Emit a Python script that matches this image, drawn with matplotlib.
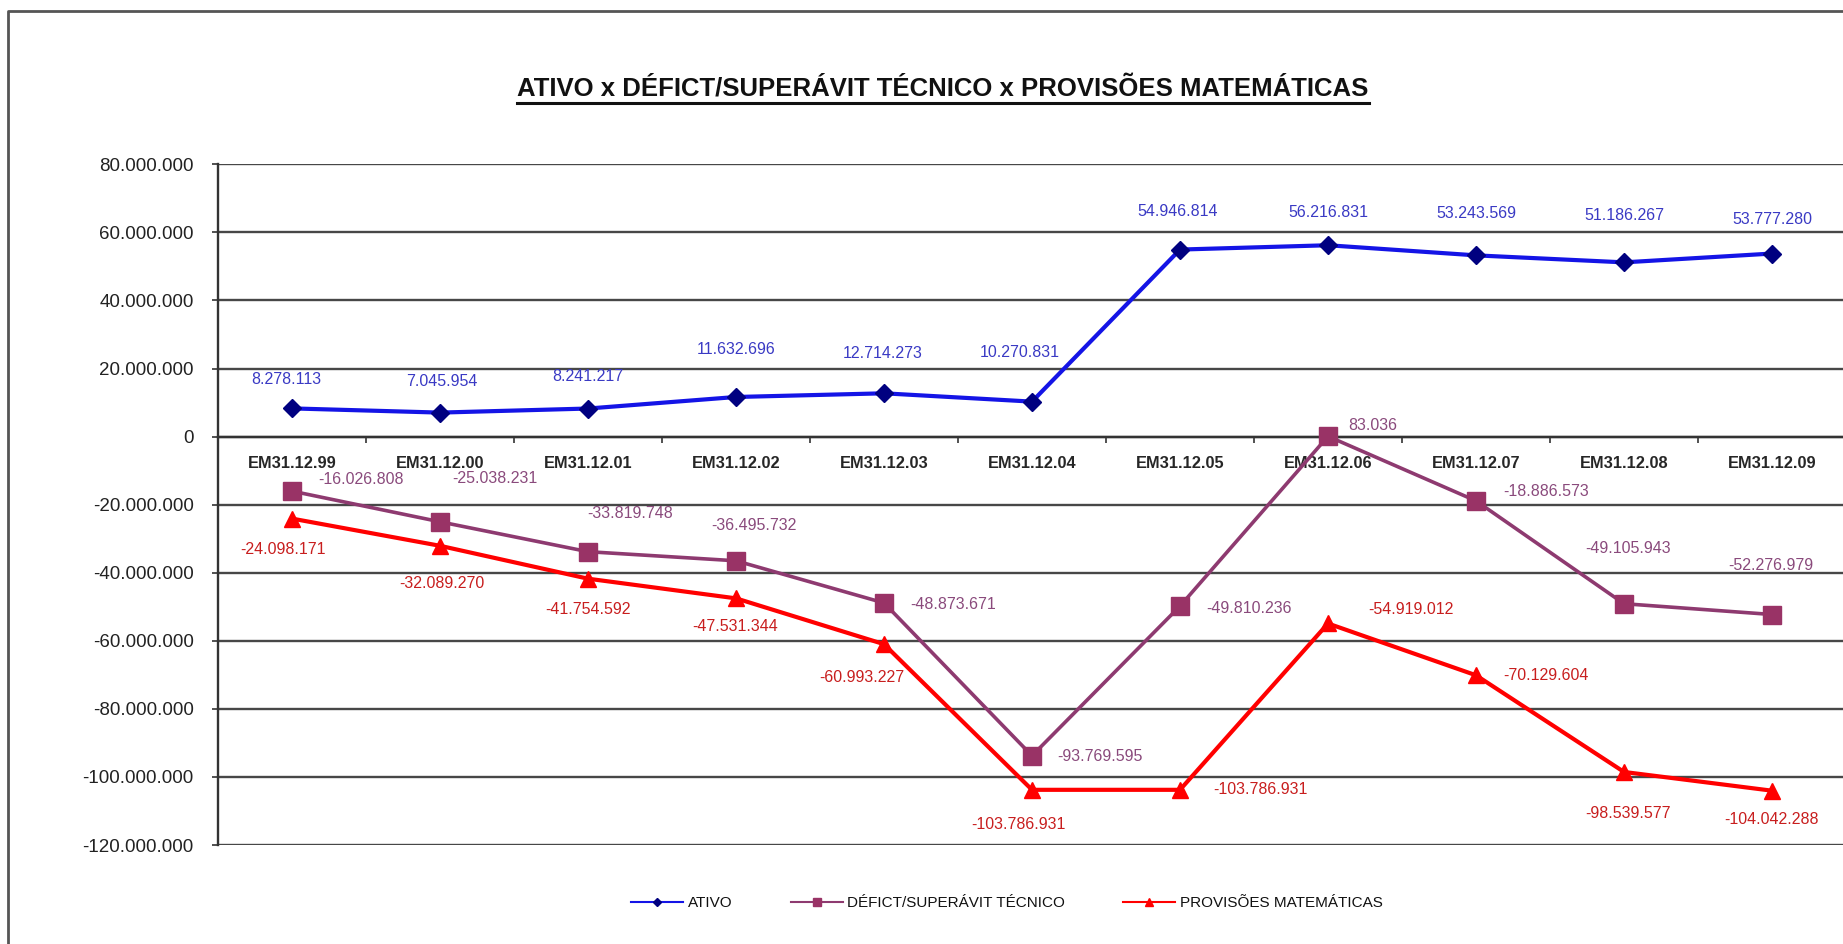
import numpy as np
import matplotlib
matplotlib.use("Agg")
import matplotlib.pyplot as plt
from matplotlib.lines import Line2D

plt.rcParams["font.family"] = ["Liberation Sans", "DejaVu Sans"]

categories = ["EM31.12.99", "EM31.12.00", "EM31.12.01", "EM31.12.02", "EM31.12.03",
              "EM31.12.04", "EM31.12.05", "EM31.12.06", "EM31.12.07", "EM31.12.08",
              "EM31.12.09"]
ativo = [8278113, 7045954, 8241217, 11632696, 12714273, 10270831,
         54946814, 56216831, 53243569, 51186267, 53777280]
deficit = [-16026808, -25038231, -33819748, -36495732, -48873671, -93769595,
           -49810236, 83036, -18886573, -49105943, -52276979]
provisoes = [-24098171, -32089270, -41754592, -47531344, -60993227, -103786931,
             -103786931, -54919012, -70129604, -98539577, -104042288]
yticks = list(range(-120000000, 80000001, 20000000))

# label offsets in pixels (dx, dy up), as placed in the original
ativo_off = [(-6, 29), (2, 31), (0, 32), (0, 47), (-1, 40), (-12, 49),
             (-2, 38), (0, 33), (0, 42), (0, 47), (0, 34)]
deficit_off = [(69, 12), (55, 43), (42, 38), (18, 35), (69, -2), (68, -1),
               (69, -2), (45, 11), (70, 9), (4, 55), (-1, 49)]
prov_off = [(-9, -31), (2, -38), (0, -31), (-1, -28), (-22, -33), (-14, -35),
            (80, 0), (83, 14), (70, 0), (4, -42), (-1, -29)]

def fmt(v):
    return f"{v:,.0f}".replace(",", ".")

W, H = 1843, 944
fig = plt.figure(figsize=(W / 100, H / 100), dpi=100)
ax = fig.add_axes([218 / W, 1 - 845 / H, (1846 - 218) / W, (845 - 164.3) / H])

# spines first: moving the spine resets tick label styling
ax.spines["top"].set_visible(False)
ax.spines["right"].set_visible(False)
ax.spines["bottom"].set_position(("data", 0))
ax.spines["bottom"].set_color("#333333")
ax.spines["bottom"].set_linewidth(1.7)
ax.spines["left"].set_color("#333333")
ax.spines["left"].set_linewidth(1.7)

x = np.arange(len(categories))

ax.plot(x, ativo, color="#1414E6", lw=3, marker="D", ms=9.5,
        mfc="#000080", mec="#000080", zorder=3)
ax.plot(x, deficit, color="#8E3A70", lw=2.6, marker="s", ms=13,
        mfc="#993366", mec="#993366", zorder=3)
ax.plot(x, provisoes, color="#FF0000", lw=3, marker="^", ms=11,
        mfc="#FF0000", mec="#FF0000", zorder=4)

for series, offs, col in [(ativo, ativo_off, "#3A3AC4"),
                          (deficit, deficit_off, "#8A4A7C"),
                          (provisoes, prov_off, "#C81E1E")]:
    for i, v in enumerate(series):
        ax.annotate(fmt(v), (x[i], v), xytext=offs[i], textcoords="offset pixels",
                    ha="center", va="center", fontsize=11.5, color=col, zorder=5)

ax.set_xlim(-0.5, len(categories) - 0.5)
ax.set_ylim(-120000000, 80000000)
ax.set_yticks(yticks)
ax.set_yticklabels([fmt(v) for v in yticks], fontsize=13.5, color="#222222")
ax.tick_params(axis="y", direction="out", length=4.5, width=1.2, color="#333333", pad=13)
ax.grid(axis="y", color="#474747", lw=1.7, zorder=0)

ax.set_xticks(x)
ax.set_xticklabels(categories, fontsize=11.8, fontweight="bold", color="#262626")
ax.set_xticks(np.arange(len(categories) + 1) - 0.5, minor=True)
ax.tick_params(axis="x", which="major", length=0, pad=14)
ax.tick_params(axis="x", which="minor", direction="out", length=4, width=1.2, color="#333333")

# title with underline
title = fig.text(943 / W, 1 - 88 / H, "ATIVO x DÉFICT/SUPERÁVIT TÉCNICO x PROVISÕES MATEMÁTICAS",
                 ha="center", va="center", fontsize=18.5, fontweight="bold", color="#111111")
fig.canvas.draw()
bb = title.get_window_extent(fig.canvas.get_renderer())
uy = bb.y0 - 3
fig.add_artist(Line2D([bb.x0 / W, bb.x1 / W], [uy / H, uy / H], color="#111111", lw=2.2))

# legend
handles = [
    Line2D([], [], color="#1414E6", lw=1.5, marker="D", ms=4.5, mfc="#000080", mec="#000080"),
    Line2D([], [], color="#8E3A70", lw=1.5, marker="s", ms=6, mfc="#993366", mec="#993366"),
    Line2D([], [], color="#FF0000", lw=1.5, marker="^", ms=6, mfc="#FF0000", mec="#FF0000"),
]
labels = ["ATIVO", "DÉFICT/SUPERÁVIT TÉCNICO", "PROVISÕES MATEMÁTICAS"]
leg = fig.legend(handles, labels, loc="center", bbox_to_anchor=(1007 / W, 1 - 903 / H),
                 ncol=3, frameon=False, fontsize=11, handlelength=3.4,
                 columnspacing=3.8, handletextpad=0.3)
for t in leg.get_texts():
    t.set_color("#111111")

# outer chart border (top and left visible)
fig.add_artist(Line2D([8 / W, 8 / W, 1.01], [-0.01, 1 - 11 / H, 1 - 11 / H],
                      color="#555555", lw=2))

fig.savefig("out.png", dpi=100)
